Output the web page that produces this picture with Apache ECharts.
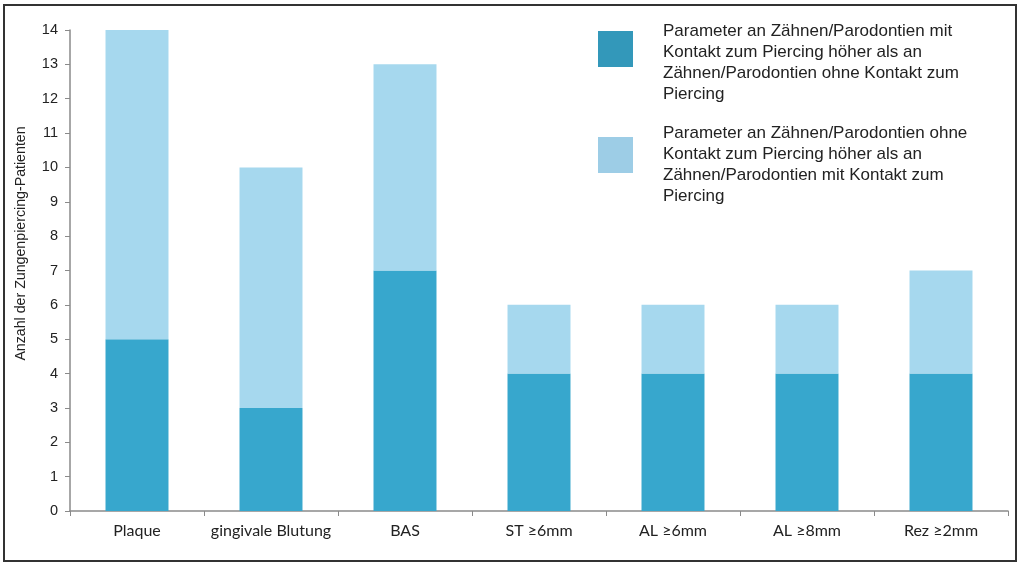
<!DOCTYPE html>
<html><head><meta charset="utf-8">
<script src="https://cdn.jsdelivr.net/npm/echarts@6/dist/echarts.min.js"></script>
<style>html,body{margin:0;padding:0;background:#fff}#c{width:1024px;height:568px}</style>
</head><body><div id="c"></div>
<script>
const categories = ['Plaque', 'gingivale Blutung', 'BAS', 'ST \u22656mm', 'AL \u22656mm', 'AL \u22658mm', 'Rez \u22652mm'];
const mitKontakt = [5, 3, 7, 4, 4, 4, 4];
const ohneKontakt = [9, 7, 6, 2, 2, 2, 3];
const yTicks = [0, 1, 2, 3, 4, 5, 6, 7, 8, 9, 10, 11, 12, 13, 14];
const seriesNames = [
  'Parameter an Zähnen/Parodontien mit\nKontakt zum Piercing höher als an\nZähnen/Parodontien ohne Kontakt zum\nPiercing',
  'Parameter an Zähnen/Parodontien ohne\nKontakt zum Piercing höher als an\nZähnen/Parodontien mit Kontakt zum\nPiercing'
];
const yAxisName = 'Anzahl der Zungenpiercing-Patienten';

function legendCfg(idx, top, gapH, color) {
  return {
    orient: 'vertical',
    left: 598,
    top: top,
    padding: 0,
    itemWidth: 35,
    itemHeight: 36,
    icon: 'rect',
    selectedMode: false,
    formatter: n => '{g| }\n' + n,
    textStyle: {
      fontFamily: 'Liberation Sans',
      fontSize: 17,
      lineHeight: 21,
      color: '#222',
      padding: [0, 0, 0, 25],
      rich: { g: { fontSize: 4, lineHeight: gapH } }
    },
    data: [{ name: seriesNames[idx], itemStyle: { color: color } }]
  };
}

const chart = echarts.init(document.getElementById('c'));
chart.setOption({
  animation: false,
  backgroundColor: '#fff',
  grid: { left: 70, right: 16, top: 30, bottom: 57, containLabel: false },
  legend: [
    legendCfg(0, -6.5, 27, '#3398BA'),
    legendCfg(1, 103, 20, '#9DCDE6')
  ],
  xAxis: {
    type: 'category',
    data: categories,
    axisLine: { lineStyle: { color: '#8a8a8a', width: 1.5 } },
    axisTick: { show: true, interval: 0, length: 5, lineStyle: { color: '#8a8a8a' } },
    axisLabel: { interval: 0, fontFamily: 'Lato', fontSize: 16, color: '#222', margin: 12 }
  },
  yAxis: {
    type: 'value',
    min: 0, max: 14, interval: 1,
    splitLine: { show: false },
    axisLine: { show: true, lineStyle: { color: '#8a8a8a', width: 1.5 } },
    axisTick: { show: true, length: 5, lineStyle: { color: '#8a8a8a' } },
    axisLabel: {
      fontFamily: 'Liberation Sans', fontSize: 14.5, color: '#222', margin: 12,
      formatter: v => (yTicks.indexOf(v) >= 0 ? String(v) : '')
    },
    name: yAxisName,
    nameLocation: 'middle',
    nameGap: 42,
    nameTextStyle: { fontFamily: 'Liberation Sans', fontSize: 14.2, color: '#222', padding: [0, 0, 0, 54] }
  },
  series: [
    {
      name: seriesNames[0], type: 'bar', stack: 'a', data: mitKontakt,
      barWidth: '47%', itemStyle: { color: '#37A7CD' }
    },
    {
      name: seriesNames[1], type: 'bar', stack: 'a', data: ohneKontakt,
      barWidth: '47%', itemStyle: { color: '#A6D8EE' }
    }
  ],
  graphic: [{
    type: 'rect', silent: true, z: 100,
    shape: { x: 4, y: 5, width: 1012, height: 556 },
    style: { fill: 'none', stroke: '#333', lineWidth: 2 }
  }]
});
</script>
</body></html>
